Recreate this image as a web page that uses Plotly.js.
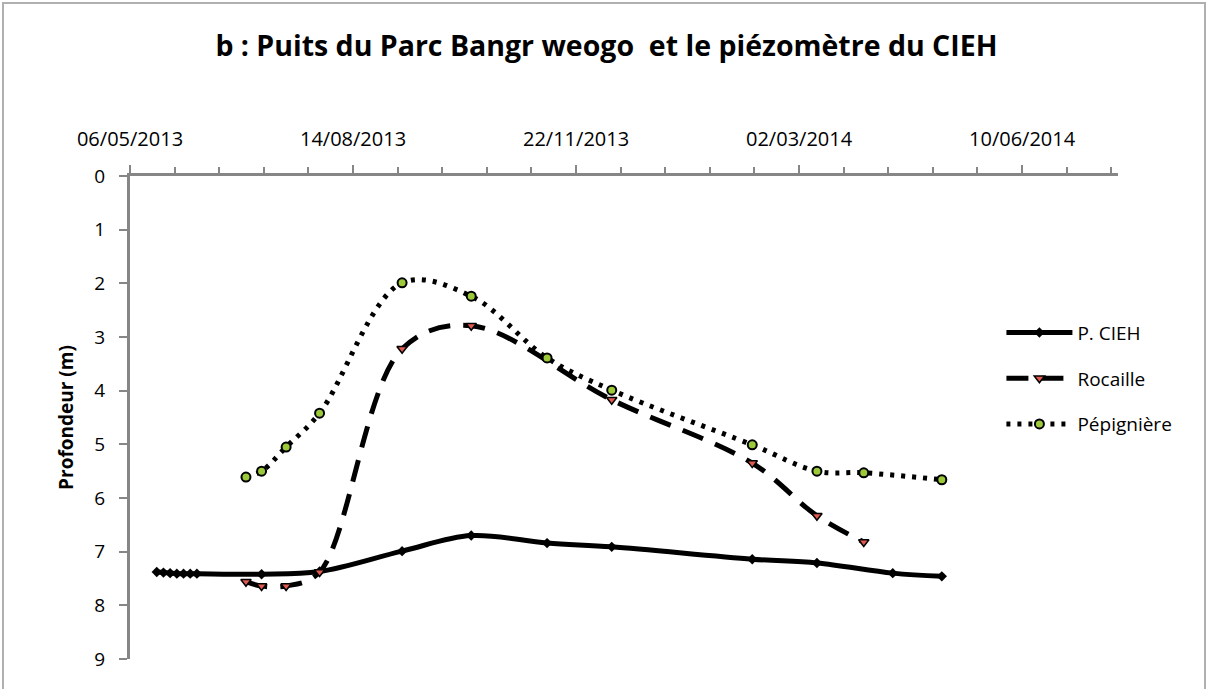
<!DOCTYPE html>
<html>
<head>
<meta charset="utf-8">
<script src="https://cdn.plot.ly/plotly-3.0.1.min.js"></script>
<style>
  html, body { margin: 0; padding: 0; background: #ffffff; }
  #frame { position: absolute; left: 2px; top: 2px; width: 1204px; height: 700px;
           border: 2px solid #b0b0b0; box-sizing: border-box; pointer-events: none; }
  #chart { position: absolute; left: 0; top: 0; width: 1208px; height: 689px; }
</style>
</head>
<body>
<div id="chart"></div>
<div id="frame"></div>
<script>
// ---- data ----
const chartTitle = "b : Puits du Parc Bangr weogo \u00a0et le piézomètre du CIEH";
const yTitle = "Profondeur (m)";
const seriesNames = ["P. CIEH", "Rocaille", "Pépignière"];

const ciehDates = ["2013-05-18","2013-05-21","2013-05-24","2013-05-27","2013-05-30","2013-06-02","2013-06-05",
                   "2013-07-04","2013-07-30","2013-09-05","2013-10-06","2013-11-09","2013-12-08",
                   "2014-02-09","2014-03-10","2014-04-13","2014-05-05"];
const ciehDepth = [7.38,7.39,7.40,7.41,7.41,7.41,7.41,
                   7.42,7.37,6.99,6.70,6.84,6.91,
                   7.14,7.21,7.40,7.46];

const rocDates = ["2013-06-27","2013-07-04","2013-07-15","2013-07-30","2013-09-05","2013-10-06",
                  "2013-12-08","2014-02-09","2014-03-10","2014-03-31"];
const rocDepth = [7.56,7.64,7.64,7.38,3.22,2.79,4.17,5.35,6.33,6.82];

const pepDates = ["2013-06-27","2013-07-04","2013-07-15","2013-07-30","2013-09-05","2013-10-06",
                  "2013-11-09","2013-12-08","2014-02-09","2014-03-10","2014-03-31","2014-05-05"];
const pepDepth = [5.61,5.50,5.05,4.42,1.99,2.24,3.39,3.99,5.01,5.50,5.53,5.66];

const xStart = "2013-05-06";
const xEnd = "2014-07-23";
const DAY = 86400000;

const axisGray = "#868686";
const fontFam = "Open Sans, Calibri, sans-serif";

const traces = [
  {
    x: ciehDates, y: ciehDepth, name: seriesNames[0], type: "scatter", mode: "lines+markers",
    legendgroup: "a",
    line: { color: "#000000", width: 5, shape: "spline", smoothing: 1 },
    marker: { symbol: "diamond", size: 8, color: "#000000" }
  },
  {
    x: rocDates, y: rocDepth, name: seriesNames[1], type: "scatter", mode: "lines+markers",
    legendgroup: "b",
    line: { color: "#000000", width: 5, shape: "spline", smoothing: 1, dash: "22px,13px" },
    marker: { symbol: "triangle-down", size: 9, color: "#e05a4f", line: { color: "#000000", width: 1.5 } }
  },
  {
    x: pepDates, y: pepDepth, name: seriesNames[2], type: "scatter", mode: "lines+markers",
    legendgroup: "c",
    line: { color: "#000000", width: 5, shape: "spline", smoothing: 1, dash: "4px,7px" },
    marker: { symbol: "circle", size: 9, color: "#9bc93a", line: { color: "#000000", width: 2 } }
  }
];

const layout = {
  width: 1208, height: 689,
  paper_bgcolor: "rgba(0,0,0,0)", plot_bgcolor: "#ffffff",
  margin: { l: 130, r: 90, t: 176, b: 30, pad: 0 },
  showlegend: true,
  title: {
    text: "<b>" + chartTitle + "</b>",
    font: { family: fontFam, size: 28.5, color: "#000000" },
    x: 0.502, xref: "container", xanchor: "center", y: 0.933, yanchor: "middle"
  },
  xaxis: {
    type: "date", side: "top", range: [xStart, xEnd],
    tick0: xStart, dtick: 100 * DAY, tickformat: "%d/%m/%Y",
    ticks: "outside", ticklen: 8, tickwidth: 2, tickcolor: axisGray,
    ticklabelstandoff: 11,
    minor: { tick0: xStart, dtick: 20 * DAY, ticks: "outside", ticklen: 6, tickwidth: 2, tickcolor: axisGray, showgrid: false },
    showline: true, linecolor: axisGray, linewidth: 3,
    showgrid: false, zeroline: false,
    tickfont: { family: fontFam, size: 20, color: "#000000" }
  },
  yaxis: {
    range: [9, 0], dtick: 1, tick0: 0,
    ticks: "outside", ticklen: 8, tickwidth: 2, tickcolor: axisGray,
    ticklabelstandoff: 10,
    showline: true, linecolor: axisGray, linewidth: 3,
    showgrid: false, zeroline: false,
    tickfont: { family: fontFam, size: 19, color: "#000000" },
    title: { text: "<b>" + yTitle + "</b>", standoff: 16,
             font: { family: fontFam, size: 19, color: "#000000" } }
  },
  legend: {
    x: 0.882, xanchor: "left", y: 0.715, yanchor: "top",
    bgcolor: "rgba(0,0,0,0)", borderwidth: 0,
    itemwidth: 66, tracegroupgap: 18,
    font: { family: fontFam, size: 19, color: "#000000" }
  }
};

Plotly.newPlot("chart", traces, layout, { displayModeBar: false, staticPlot: true });
</script>
</body>
</html>
